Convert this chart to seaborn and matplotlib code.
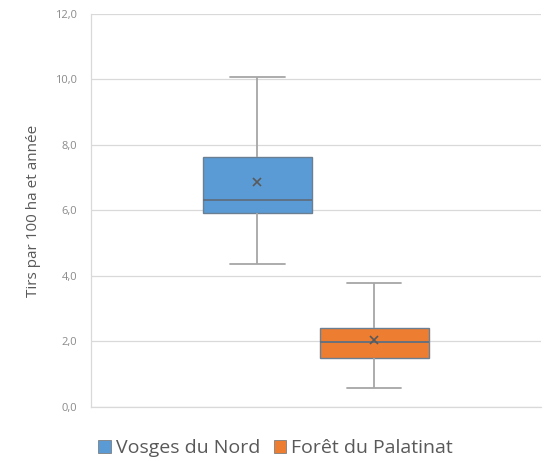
import matplotlib
matplotlib.use("Agg")
import matplotlib.pyplot as plt
import seaborn as sns
import pandas as pd
from matplotlib.patches import Patch

# Data (five-number summaries)
series_names = ["Vosges du Nord", "Forêt du Palatinat"]
vosges = [4.37, 5.92, 6.32, 7.63, 10.08]
palatinat = [0.58, 1.50, 1.98, 2.41, 3.79]
colors = ["#5B9BD5", "#ED7D31"]
yticks = [0, 2, 4, 6, 8, 10, 12]
ytick_labels = ["0,0", "2,0", "4,0", "6,0", "8,0", "10,0", "12,0"]
ylabel = "Tirs par 100 ha et année"

df = pd.DataFrame({
    "cat": ["c"] * (len(vosges) + len(palatinat)),
    "serie": [series_names[0]] * len(vosges) + [series_names[1]] * len(palatinat),
    "val": vosges + palatinat,
})

sns.set_style("white")
plt.rcParams["font.family"] = ["Open Sans", "DejaVu Sans"]

fig = plt.figure(figsize=(5.46, 4.62), dpi=100)
ax = fig.add_axes([0.167, 0.119, 0.823, 0.851])

ax.yaxis.grid(True, color="#d9d9d9", linewidth=0.9)
ax.set_axisbelow(True)

sns.boxplot(data=df, x="cat", y="val", hue="serie", hue_order=series_names,
            palette=colors, saturation=1, width=0.52, gap=0.07, whis=(0, 100),
            showmeans=True, linecolor="#7f7f7f", linewidth=1.0,
            boxprops=dict(edgecolor="#6b7f93"),
            meanprops=dict(marker="x", markeredgecolor="#595959",
                           markersize=6, markeredgewidth=1.2),
            medianprops=dict(color="#5f6f80", linewidth=1.3),
            whiskerprops=dict(color="#a6a6a6", linewidth=1.3),
            capprops=dict(color="#a6a6a6", linewidth=1.3),
            legend=False, ax=ax)

ax.set_xlim(-0.5, 0.5)
ax.set_ylim(0, 12)
ax.set_yticks(yticks)
ax.set_yticklabels(ytick_labels, color="#8a8a8a", fontsize=8)
ax.set_xticks([])
ax.set_xlabel("")
ax.set_ylabel(ylabel, color="#595959", fontsize=11, labelpad=10)
ax.tick_params(axis="y", length=0, pad=10)

for s in ["top", "right"]:
    ax.spines[s].set_visible(False)
for s in ["left", "bottom"]:
    ax.spines[s].set_color("#d9d9d9")
    ax.spines[s].set_linewidth(0.9)

handles = [Patch(facecolor=c, edgecolor="#7f7f7f", linewidth=0.6) for c in colors]
fig.legend(handles, series_names, loc="center", bbox_to_anchor=(0.505, 0.030),
           ncol=2, frameon=False, fontsize=14, handlelength=0.65,
           handleheight=0.65, handletextpad=0.25, columnspacing=0.7,
           labelcolor="#595959")

fig.savefig("out.png", dpi=100)
